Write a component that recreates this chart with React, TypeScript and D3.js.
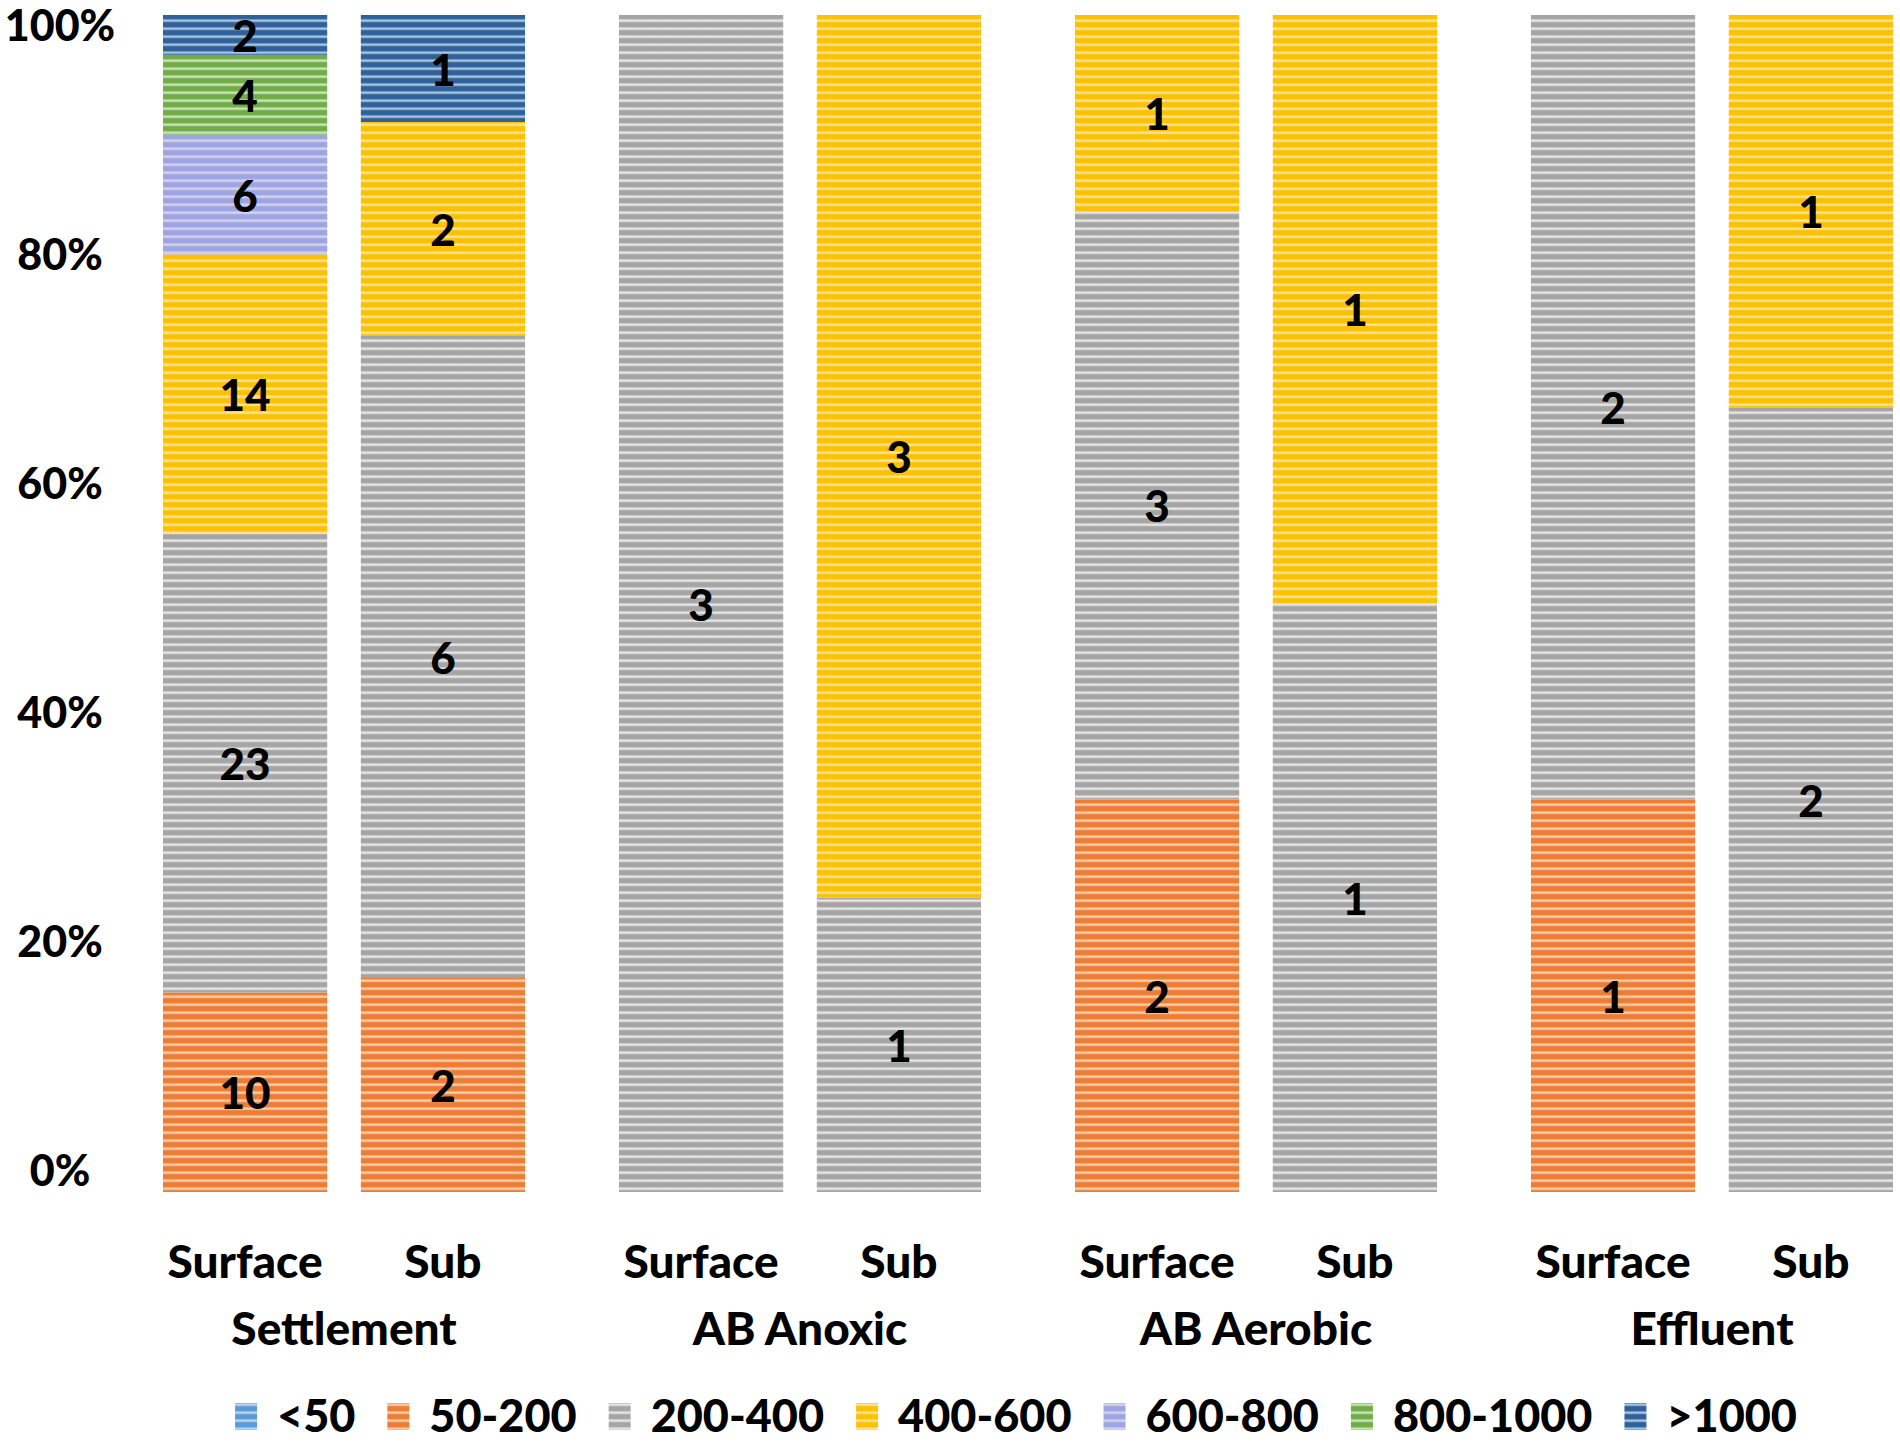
import * as d3 from "d3";
import { useEffect, useRef } from "react";

const WIDTH = 1900;
const HEIGHT = 1445;

const GROUPS = ["Settlement", "AB Anoxic", "AB Aerobic", "Effluent"];
const LAYERS = ["Surface", "Sub"];
const RANGES = ["<50", "50-200", "200-400", "400-600", "600-800", "800-1000", ">1000"];
const COLORS = ["#5B9BD5", "#ED7D31", "#A5A5A5", "#FFC000", "#9BA6E3", "#70AD47", "#2F6199"];
const TINTS = ["#C9DDF2", "#FBD8BF", "#F0F0F0", "#FFEBA8", "#E4D8F2", "#D6EDC6", "#BBD3EE"];

// counts per bar: Settlement Surface/Sub, AB Anoxic Surface/Sub, AB Aerobic Surface/Sub, Effluent Surface/Sub
const LT50 = [0, 0, 0, 0, 0, 0, 0, 0];
const R50_200 = [10, 2, 0, 0, 2, 0, 1, 0];
const R200_400 = [23, 6, 3, 1, 3, 1, 2, 2];
const R400_600 = [14, 2, 0, 3, 1, 1, 0, 1];
const R600_800 = [6, 0, 0, 0, 0, 0, 0, 0];
const R800_1000 = [4, 0, 0, 0, 0, 0, 0, 0];
const GT1000 = [2, 1, 0, 0, 0, 0, 0, 0];

const TICKS = [0, 0.2, 0.4, 0.6, 0.8, 1];

const FONT = "Lato, 'Noto Sans', sans-serif";
const WEIGHT = 900;

const App = () => {
  const svgRef = useRef<SVGSVGElement>(null);

  useEffect(() => {
    if (!svgRef.current) return;
    const svg = d3.select(svgRef.current);
    svg.selectAll("*").remove();

    const series = [LT50, R50_200, R200_400, R400_600, R600_800, R800_1000, GT1000];
    const rows = GROUPS.flatMap((g, gi) =>
      LAYERS.map((l, li) => {
        const row: any = { group: g, layer: l };
        RANGES.forEach((r, ri) => (row[r] = series[ri][gi * 2 + li]));
        return row;
      })
    );

    const stacked = d3
      .stack<any>()
      .keys(RANGES)
      .offset(d3.stackOffsetExpand)(rows);

    const x0 = d3.scaleBand<string>().domain(GROUPS).range([163, 1893]).paddingInner(0.206);
    const x1 = d3.scaleBand<string>().domain(LAYERS).range([0, x0.bandwidth()]).paddingInner(0.17);
    const y = d3.scaleLinear().domain([0, 1]).range([1192, 15]);
    const yTick = d3.scaleLinear().domain([0, 1]).range([1169, 24]);

    const defs = svg.append("defs");
    RANGES.forEach((_, i) => {
      const grad = defs
        .append("linearGradient")
        .attr("id", `sg-${i}`)
        .attr("x1", 0)
        .attr("y1", 0)
        .attr("x2", 0)
        .attr("y2", 1);
      [
        [0, COLORS[i]],
        [0.3, COLORS[i]],
        [0.6, TINTS[i]],
        [0.85, COLORS[i]],
        [1, COLORS[i]],
      ].forEach(([o, c]) => grad.append("stop").attr("offset", o as number).attr("stop-color", c as string));
      defs
        .append("pattern")
        .attr("id", `stripe-${i}`)
        .attr("patternUnits", "userSpaceOnUse")
        .attr("width", 10)
        .attr("height", 8)
        .append("rect")
        .attr("width", 10)
        .attr("height", 8)
        .attr("fill", `url(#sg-${i})`);
    });

    // bars
    const layer = svg
      .append("g")
      .selectAll("g")
      .data(stacked)
      .join("g")
      .attr("fill", (_, i) => `url(#stripe-${i})`);

    layer
      .selectAll("rect")
      .data((d) => d.filter((s) => s[1] - s[0] > 0))
      .join("rect")
      .attr("x", (d) => x0(d.data.group)! + x1(d.data.layer)!)
      .attr("width", x1.bandwidth())
      .attr("y", (d) => y(d[1]))
      .attr("height", (d) => y(d[0]) - y(d[1]));

    // value labels
    const labels = svg.append("g").attr("font-family", FONT).attr("font-weight", WEIGHT).attr("font-size", 44);
    stacked.forEach((s) => {
      s.forEach((d) => {
        const v = d.data[s.key];
        if (!v) return;
        labels
          .append("text")
          .attr("x", x0(d.data.group)! + x1(d.data.layer)! + x1.bandwidth() / 2)
          .attr("y", y((d[0] + d[1]) / 2))
          .attr("text-anchor", "middle")
          .attr("dominant-baseline", "central")
          .text(v);
      });
    });

    // y tick labels
    svg
      .append("g")
      .attr("font-family", FONT)
      .attr("font-weight", WEIGHT)
      .attr("font-size", 43)
      .selectAll("text")
      .data(TICKS)
      .join("text")
      .attr("x", 60)
      .attr("y", (d) => yTick(d))
      .attr("text-anchor", "middle")
      .attr("dominant-baseline", "central")
      .text((d) => d3.format(".0%")(d));

    // category labels
    const cats = svg.append("g").attr("font-family", FONT).attr("font-weight", WEIGHT).attr("font-size", 46);
    GROUPS.forEach((g) => {
      LAYERS.forEach((l) => {
        cats
          .append("text")
          .attr("x", x0(g)! + x1(l)! + x1.bandwidth() / 2)
          .attr("y", 1278)
          .attr("text-anchor", "middle")
          .text(l);
      });
      cats
        .append("text")
        .attr("x", x0(g)! + x0.bandwidth() / 2)
        .attr("y", 1345)
        .attr("text-anchor", "middle")
        .text(g);
    });

    // legend
    const legend = svg.append("g").attr("font-family", FONT).attr("font-weight", WEIGHT).attr("font-size", 45);
    const items = legend
      .selectAll("g")
      .data(RANGES)
      .join("g");
    items
      .append("rect")
      .attr("y", 1403)
      .attr("width", 22)
      .attr("height", 27)
      .attr("fill", (_, i) => `url(#stripe-${i})`);
    items
      .append("text")
      .attr("x", 42)
      .attr("y", 1432)
      .text((d) => d);
    let cx = 0;
    const offsets: number[] = [];
    items.each(function () {
      const t = d3.select(this).select<SVGTextElement>("text").node()!;
      offsets.push(cx);
      cx += 42 + t.getComputedTextLength() + 32;
    });
    const total = cx - 32;
    const start = 1016 - total / 2;
    items.attr("transform", (_, i) => `translate(${start + offsets[i]},0)`);
  }, []);

  return (
    <div style={{ position: "absolute", left: 0, top: 0, background: "#fff" }}>
      <svg ref={svgRef} width={WIDTH} height={HEIGHT} />
    </div>
  );
};

export default App;
